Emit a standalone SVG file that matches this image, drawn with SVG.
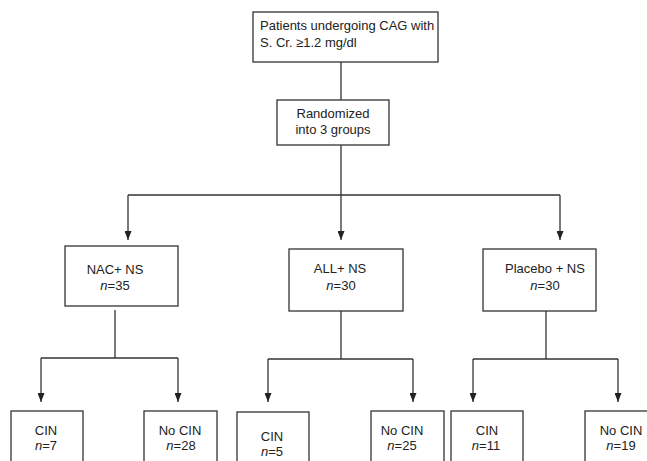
<svg xmlns="http://www.w3.org/2000/svg" width="647" height="461" viewBox="0 0 647 461">
<style>
.box{fill:#fff;stroke:#333;stroke-width:1.3}
.t{font-family:"Liberation Sans",Arial,sans-serif;font-size:13px;fill:#222;text-anchor:middle}
.i{font-style:italic}
.ln{fill:none;stroke:#333;stroke-width:1.3}
</style>
<defs>
<marker id="ah" markerWidth="9" markerHeight="7" refX="9" refY="3.5" orient="auto" markerUnits="userSpaceOnUse" viewBox="0 0 9 7">
<path d="M0,0 L9,3.5 L0,7 Z" fill="#222"/>
</marker>
</defs>
<rect width="647" height="461" fill="#fff"/>
<g id="connectors">
<path class="ln" d="M341,62 V100"/>
<path class="ln" d="M341,145 V195"/>
<path class="ln" d="M128,195 H560"/>
<path class="ln" d="M128,195 V240" marker-end="url(#ah)"/>
<path class="ln" d="M341,195 V240" marker-end="url(#ah)"/>
<path class="ln" d="M560,195 V240" marker-end="url(#ah)"/>
<path class="ln" d="M115,310 V358"/>
<path class="ln" d="M41,358 H178"/>
<path class="ln" d="M41,358 V402" marker-end="url(#ah)"/>
<path class="ln" d="M178,358 V402" marker-end="url(#ah)"/>
<path class="ln" d="M341,311 V359"/>
<path class="ln" d="M268,359 H413"/>
<path class="ln" d="M268,359 V402" marker-end="url(#ah)"/>
<path class="ln" d="M413,359 V402" marker-end="url(#ah)"/>
<path class="ln" d="M546,311 V359"/>
<path class="ln" d="M473,359 H618"/>
<path class="ln" d="M473,359 V402" marker-end="url(#ah)"/>
<path class="ln" d="M618,359 V402" marker-end="url(#ah)"/>
</g>
<g id="start">
<rect class="box" x="253" y="12" width="185" height="50"/>
<text class="t" x="260" y="30" style="text-anchor:start">Patients undergoing CAG with</text>
<text class="t" x="260" y="47" style="text-anchor:start">S. Cr. ≥1.2 mg/dl</text>
</g>
<g id="randomized">
<rect class="box" x="277" y="100" width="112" height="45"/>
<text class="t" x="333" y="118">Randomized</text>
<text class="t" x="333" y="134">into 3 groups</text>
</g>
<g id="nac">
<rect class="box" x="65" y="246" width="113" height="60"/>
<text class="t" x="115" y="274">NAC+ NS</text>
<text class="t" x="115" y="290"><tspan class="i">n</tspan>=35</text>
</g>
<g id="all">
<rect class="box" x="289" y="249" width="114" height="62"/>
<text class="t" x="340" y="273">ALL+ NS</text>
<text class="t" x="341" y="290"><tspan class="i">n</tspan>=30</text>
</g>
<g id="placebo">
<rect class="box" x="483" y="249" width="113" height="62"/>
<text class="t" x="545" y="273">Placebo + NS</text>
<text class="t" x="545" y="290"><tspan class="i">n</tspan>=30</text>
</g>
<g id="nac-cin">
<rect class="box" x="11" y="411" width="72" height="60"/>
<text class="t" x="46" y="435">CIN</text>
<text class="t" x="46" y="450"><tspan class="i">n</tspan>=7</text>
</g>
<g id="nac-nocin">
<rect class="box" x="144" y="411" width="73" height="60"/>
<text class="t" x="180" y="435">No CIN</text>
<text class="t" x="181" y="450"><tspan class="i">n</tspan>=28</text>
</g>
<g id="all-cin">
<rect class="box" x="237" y="412" width="72" height="60"/>
<text class="t" x="272" y="441">CIN</text>
<text class="t" x="272" y="456"><tspan class="i">n</tspan>=5</text>
</g>
<g id="all-nocin">
<rect class="box" x="371" y="411" width="73" height="60"/>
<text class="t" x="402" y="435">No CIN</text>
<text class="t" x="402" y="450"><tspan class="i">n</tspan>=25</text>
</g>
<g id="placebo-cin">
<rect class="box" x="451" y="411" width="72" height="60"/>
<text class="t" x="487" y="435">CIN</text>
<text class="t" x="486" y="450"><tspan class="i">n</tspan>=11</text>
</g>
<g id="placebo-nocin">
<rect class="box" x="585" y="411" width="80" height="60"/>
<text class="t" x="621" y="435">No CIN</text>
<text class="t" x="621" y="450"><tspan class="i">n</tspan>=19</text>
</g>
</svg>
